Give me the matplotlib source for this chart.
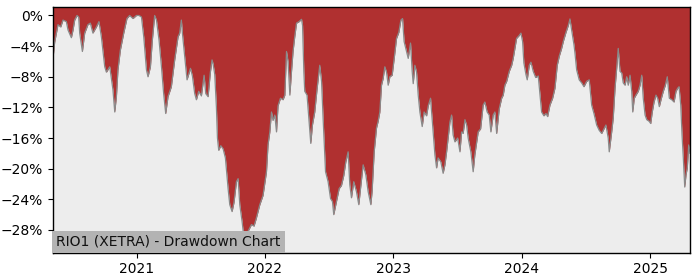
import numpy as np
import pandas as pd
import matplotlib
matplotlib.use("Agg")
import matplotlib.pyplot as plt
from matplotlib.ticker import FuncFormatter, FixedLocator
import matplotlib.dates as mdates

title_text = "RIO1 (XETRA) - Drawdown Chart"

# time as decimal years
years = [
    2020.348, 2020.361, 2020.387, 2020.408, 2020.426, 2020.452, 2020.465, 2020.491, 2020.504, 2020.517,
    2020.535, 2020.548, 2020.556, 2020.577, 2020.595, 2020.620, 2020.639, 2020.659, 2020.686, 2020.706,
    2020.725, 2020.751, 2020.764, 2020.790, 2020.815, 2020.829, 2020.842, 2020.854, 2020.873, 2020.899,
    2020.924, 2020.945, 2020.971, 2020.998, 2021.018, 2021.037, 2021.055, 2021.076, 2021.088, 2021.107,
    2021.122, 2021.140, 2021.154, 2021.174, 2021.193, 2021.210, 2021.226, 2021.244, 2021.270, 2021.296,
    2021.322, 2021.335, 2021.348, 2021.356, 2021.374, 2021.392, 2021.419, 2021.434, 2021.452, 2021.465,
    2021.483, 2021.504, 2021.525, 2021.538, 2021.556, 2021.574, 2021.587, 2021.595, 2021.608, 2021.621,
    2021.629, 2021.639, 2021.655, 2021.673, 2021.691, 2021.712, 2021.725, 2021.743, 2021.758, 2021.777,
    2021.790, 2021.803, 2021.821, 2021.836, 2021.850, 2021.867, 2021.894, 2021.914, 2021.933, 2021.959,
    2021.984, 2022.011, 2022.023, 2022.037, 2022.050, 2022.062, 2022.076, 2022.089, 2022.101, 2022.120,
    2022.140, 2022.154, 2022.167, 2022.179, 2022.193, 2022.206, 2022.218, 2022.231, 2022.245, 2022.265,
    2022.284, 2022.292, 2022.302, 2022.309, 2022.327, 2022.343, 2022.356, 2022.369, 2022.387, 2022.405,
    2022.426, 2022.440, 2022.452, 2022.471, 2022.491, 2022.510, 2022.525, 2022.535, 2022.556, 2022.577,
    2022.595, 2022.613, 2022.629, 2022.647, 2022.660, 2022.673, 2022.691, 2022.712, 2022.730, 2022.746,
    2022.764, 2022.785, 2022.803, 2022.824, 2022.834, 2022.850, 2022.868, 2022.881, 2022.894, 2022.907,
    2022.920, 2022.933, 2022.946, 2022.959, 2022.972, 2022.990, 2023.006, 2023.024, 2023.042, 2023.058,
    2023.071, 2023.083, 2023.102, 2023.115, 2023.133, 2023.146, 2023.154, 2023.167, 2023.180, 2023.193,
    2023.206, 2023.224, 2023.239, 2023.258, 2023.271, 2023.289, 2023.305, 2023.323, 2023.336, 2023.348,
    2023.369, 2023.387, 2023.401, 2023.414, 2023.426, 2023.440, 2023.453, 2023.465, 2023.479, 2023.500,
    2023.518, 2023.531, 2023.543, 2023.557, 2023.570, 2023.582, 2023.603, 2023.621, 2023.634, 2023.660,
    2023.679, 2023.699, 2023.712, 2023.730, 2023.746, 2023.759, 2023.777, 2023.790, 2023.804, 2023.824,
    2023.843, 2023.855, 2023.868, 2023.882, 2023.902, 2023.921, 2023.933, 2023.946, 2023.959, 2023.980,
    2023.993, 2024.006, 2024.016, 2024.032, 2024.042, 2024.058, 2024.071, 2024.089, 2024.108, 2024.128,
    2024.141, 2024.154, 2024.172, 2024.188, 2024.201, 2024.219, 2024.240, 2024.258, 2024.276, 2024.292,
    2024.310, 2024.323, 2024.344, 2024.362, 2024.375, 2024.388, 2024.406, 2024.414, 2024.427, 2024.447,
    2024.466, 2024.484, 2024.505, 2024.525, 2024.544, 2024.562, 2024.583, 2024.603, 2024.622, 2024.640,
    2024.655, 2024.673, 2024.681, 2024.700, 2024.712, 2024.726, 2024.739, 2024.751, 2024.765, 2024.778,
    2024.790, 2024.804, 2024.817, 2024.829, 2024.843, 2024.856, 2024.864, 2024.876, 2024.889, 2024.907,
    2024.921, 2024.934, 2024.946, 2024.960, 2024.973, 2024.991, 2025.004, 2025.016, 2025.030, 2025.045,
    2025.058, 2025.071, 2025.084, 2025.102, 2025.118, 2025.133, 2025.149, 2025.168, 2025.186, 2025.201,
    2025.214, 2025.225, 2025.238, 2025.248, 2025.258, 2025.269, 2025.279, 2025.289, 2025.300, 2025.310,
]

drawdown = [
    -5.6, -3.5, -1.2, -1.5, -0.6, -0.8, -1.9, -2.9, -1.9, -0.6,
    0.0, -0.2, -2.3, -4.7, -2.3, -1.2, -1.0, -2.3, -1.5, -0.8,
    -2.8, -6.7, -7.4, -6.7, -9.7, -12.6, -10.6, -7.1, -4.5, -2.3,
    -0.4, 0.0, -0.4, 0.0, 0.0, -0.2, -2.8, -7.1, -8.0, -6.7,
    -3.2, 0.0, -0.6, -3.2, -6.7, -10.2, -12.8, -10.6, -9.3, -5.8,
    -2.8, -2.3, -0.6, -2.3, -5.4, -8.4, -6.9, -7.9, -10.2, -11.0,
    -9.9, -10.5, -7.8, -10.2, -10.6, -7.4, -5.8, -6.3, -7.7, -12.0,
    -16.0, -17.6, -17.0, -17.4, -18.6, -22.6, -24.7, -25.6, -24.4, -21.7,
    -21.3, -24.7, -26.9, -29.1, -30.5, -28.2, -27.3, -27.5, -26.4, -24.7,
    -23.5, -20.4, -16.9, -15.2, -12.6, -13.7, -13.0, -15.2, -11.8, -10.8,
    -11.0, -10.4, -4.7, -6.0, -10.4, -7.3, -4.7, -2.8, -1.0, -0.8,
    -0.5, -1.3, -7.3, -9.9, -10.4, -13.9, -16.7, -14.3, -12.6, -9.6,
    -6.5, -8.6, -13.4, -20.4, -21.7, -23.9, -24.3, -26.0, -24.3, -22.6,
    -22.2, -20.9, -19.1, -17.8, -22.1, -23.8, -21.7, -23.0, -24.7, -22.2,
    -19.5, -20.8, -23.0, -24.7, -22.9, -17.8, -14.7, -13.8, -12.6, -9.1,
    -8.2, -6.7, -7.4, -9.1, -8.0, -7.8, -5.6, -3.0, -2.2, -0.6,
    -0.4, -3.4, -4.7, -5.6, -3.6, -7.3, -8.9, -6.5, -7.4, -10.4,
    -12.6, -14.5, -12.6, -13.1, -11.8, -10.8, -14.3, -18.2, -19.9, -18.6,
    -19.1, -20.6, -19.5, -17.8, -16.0, -13.9, -13.0, -15.6, -16.5, -16.0,
    -17.8, -15.2, -15.4, -13.6, -14.3, -16.0, -17.8, -20.4, -18.2, -15.2,
    -14.8, -11.7, -11.3, -12.6, -13.0, -15.2, -13.0, -12.6, -15.4, -12.2,
    -10.8, -10.4, -9.1, -8.6, -7.3, -6.5, -5.6, -4.3, -3.0, -2.6,
    -2.3, -3.4, -6.2, -7.7, -8.4, -6.5, -6.1, -7.3, -8.1, -7.9,
    -10.2, -12.6, -13.1, -12.8, -13.2, -11.7, -10.8, -9.5, -6.5, -5.3,
    -4.3, -3.4, -2.2, -1.3, -0.45, -1.9, -3.8, -4.9, -7.1, -8.4,
    -8.8, -9.3, -8.6, -8.4, -11.7, -12.8, -14.3, -15.0, -15.4, -14.8,
    -14.3, -16.0, -17.8, -15.2, -13.4, -9.5, -6.9, -4.3, -7.3, -7.5,
    -8.8, -9.1, -8.0, -9.1, -7.8, -9.9, -12.6, -10.8, -10.4, -9.9,
    -9.1, -7.8, -10.8, -13.0, -13.6, -13.8, -14.1, -12.6, -11.3, -10.4,
    -10.8, -11.9, -11.0, -9.9, -9.1, -8.0, -10.8, -11.0, -11.3, -9.9,
    -9.5, -9.3, -11.7, -15.6, -18.6, -22.4, -20.8, -19.9, -16.9, -18.0,
]

y_ticks = [0, -4, -8, -12, -16, -20, -24, -28]
x_tick_years = [2021, 2022, 2023, 2024, 2025]

yrs = np.array(years)
dates = pd.Timestamp("2021-01-01") + pd.to_timedelta((yrs - 2021.0) * 365.25, unit="D")
dd = np.array(drawdown)

fig = plt.figure(figsize=(7.0, 2.8), dpi=100)
ax = fig.add_axes([0.0757, 0.0975, 0.91, 0.8765])

y_top, y_bot = 1.07, -30.97
red = "#b03030"
ax.set_facecolor("#ededed")
ax.fill_between(dates, dd, y_top, color=red, linewidth=0, zorder=1)
ax.plot(dates, dd, color="#8a8a8a", lw=0.9, zorder=2)

ax.set_xlim(dates[0], dates[-1])
ax.set_ylim(y_bot, y_top)

ax.yaxis.set_major_locator(FixedLocator(y_ticks))
ax.yaxis.set_major_formatter(FuncFormatter(lambda v, p: f"{int(round(v))}%".replace("-", "\u2212")))
ax.set_xticks([pd.Timestamp(f"{y}-01-01") for y in x_tick_years])
ax.xaxis.set_major_formatter(mdates.DateFormatter("%Y"))
ax.tick_params(labelsize=10)

for s in ax.spines.values():
    s.set_color("black")
    s.set_linewidth(1.0)

ax.text(0.005, 0.016, title_text, transform=ax.transAxes, fontsize=10, color="#111111",
        va="bottom", ha="left", zorder=5,
        bbox=dict(facecolor="#b3b3b3", edgecolor="none", pad=3))

fig.savefig("out.png", dpi=100)
